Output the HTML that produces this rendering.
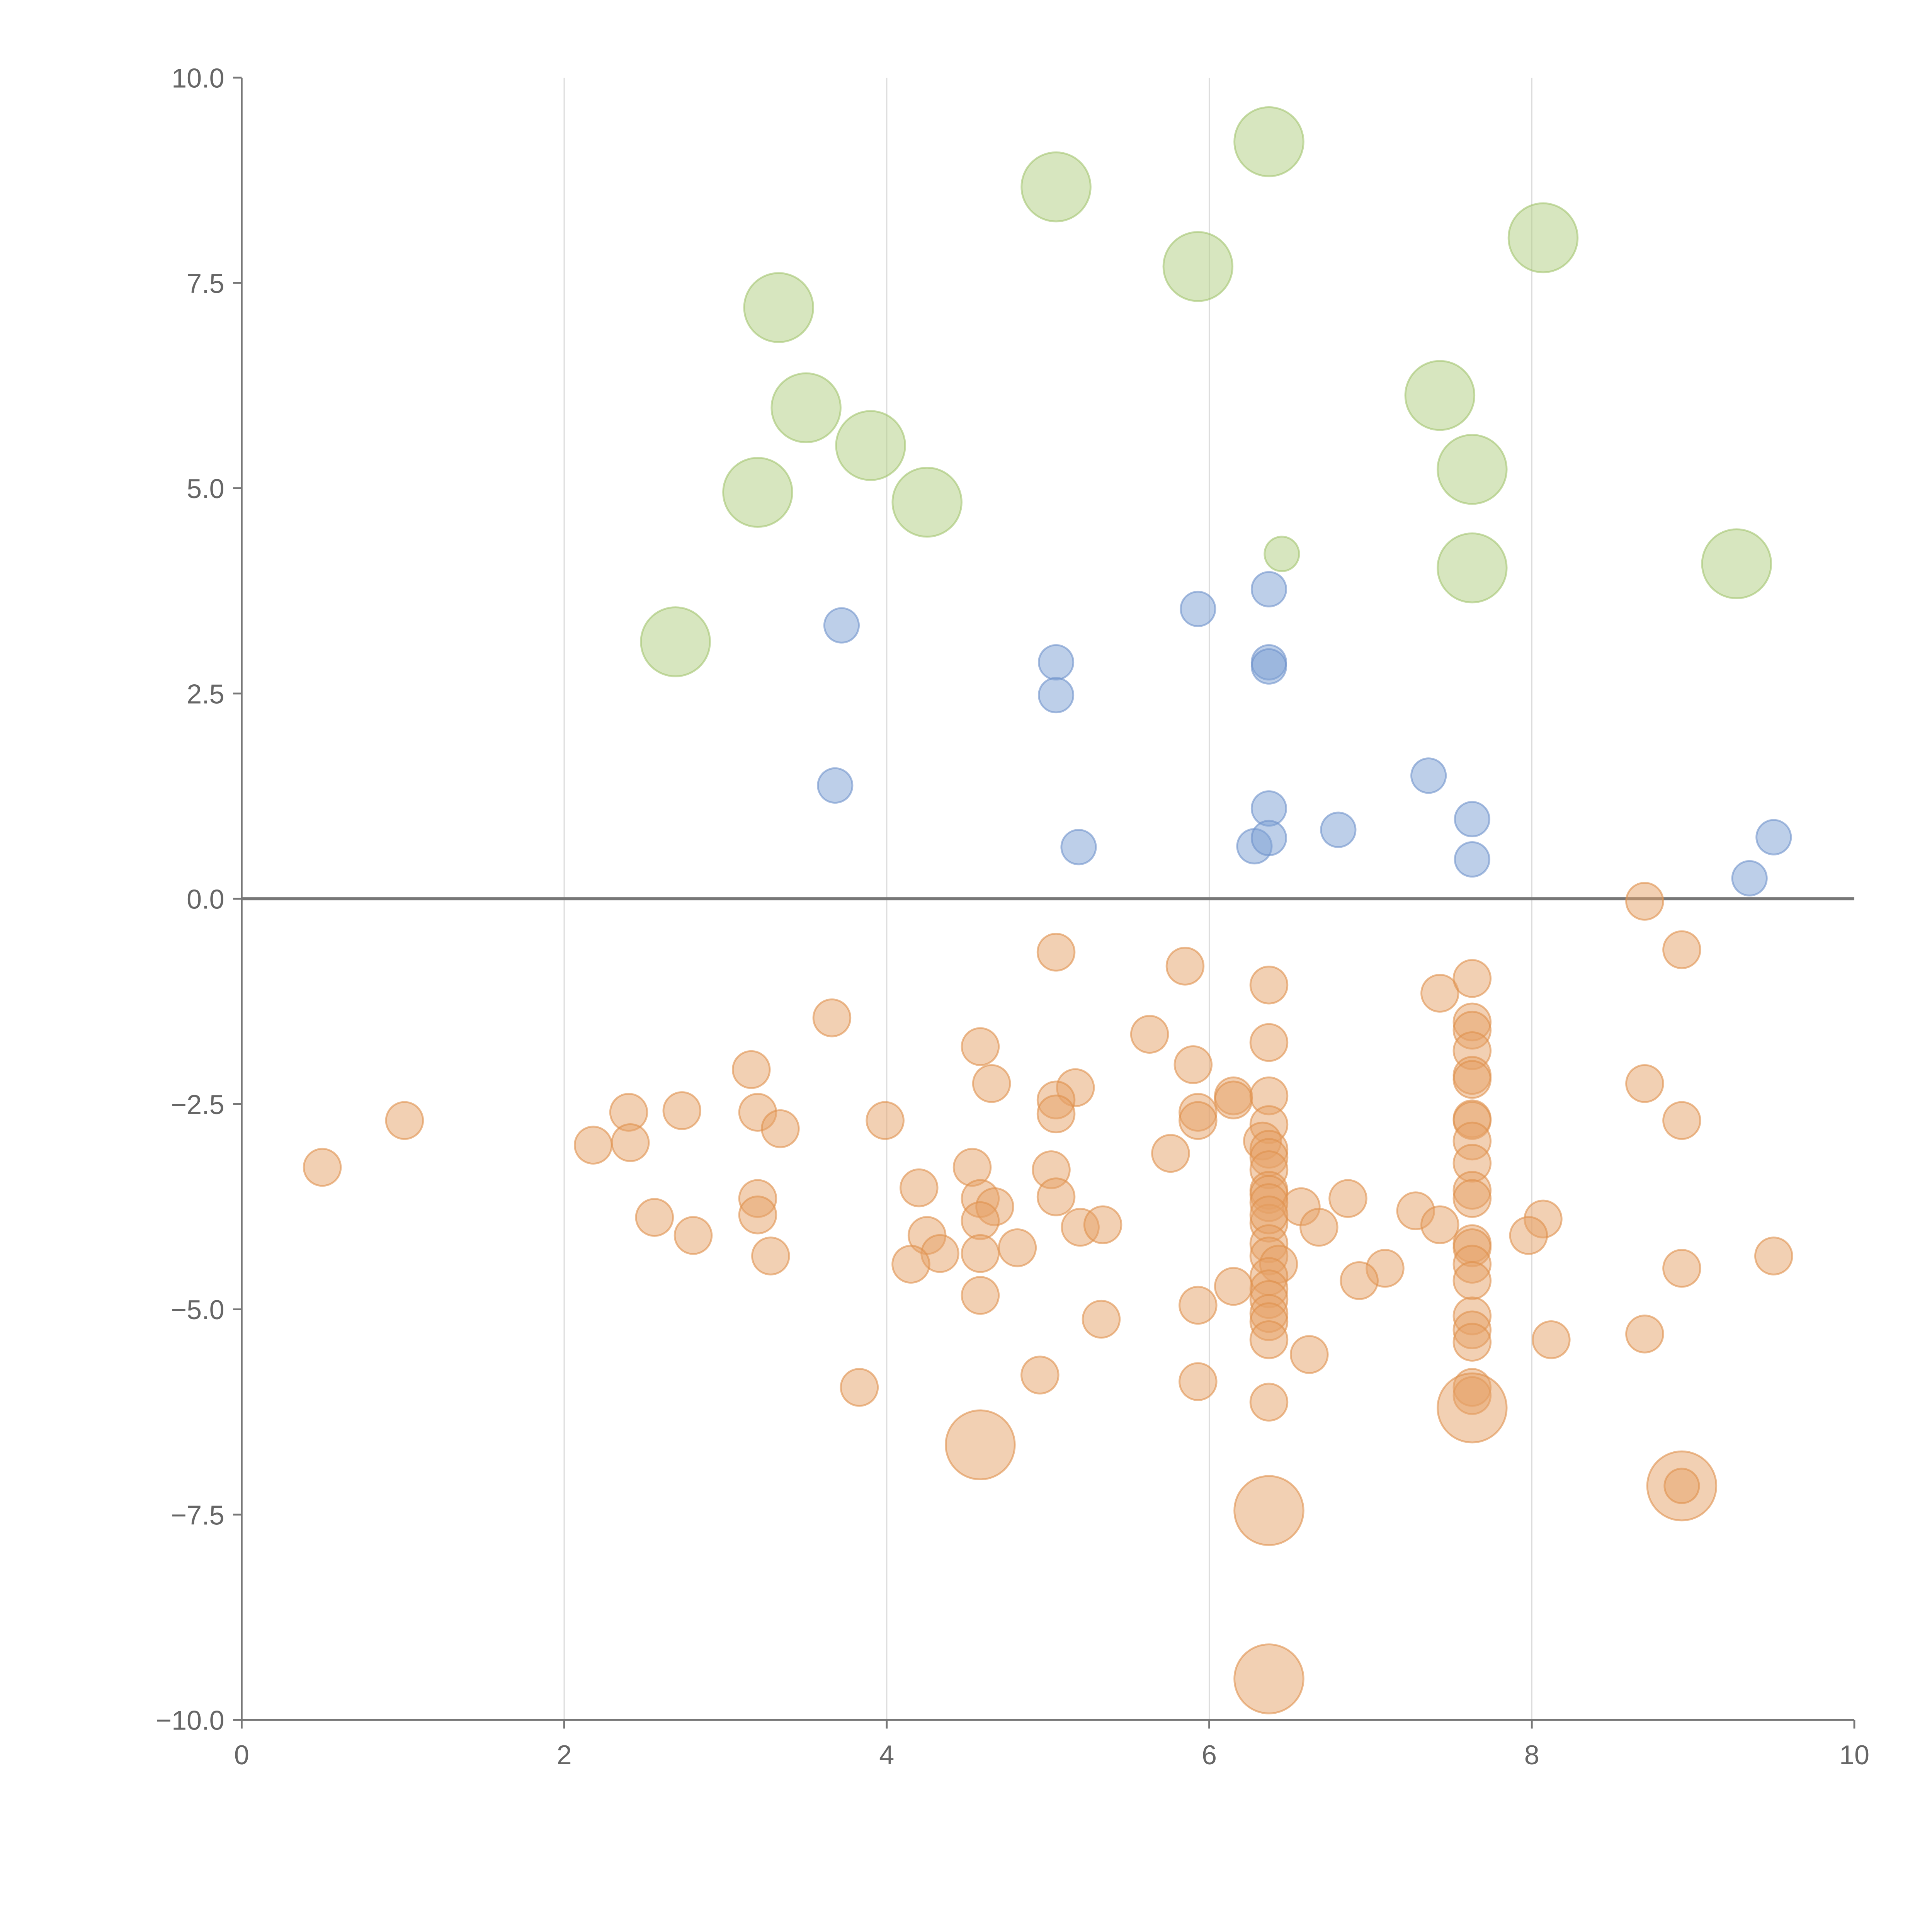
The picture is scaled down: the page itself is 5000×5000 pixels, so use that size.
<!DOCTYPE html>
<html><head><meta charset="utf-8">
<style>
html,body{margin:0;padding:0;background:#fff;}
svg{display:block;}
text{font-family:"Liberation Sans",sans-serif;fill:#666;}
</style></head>
<body>
<svg id="chart" width="5000" height="5000" viewBox="0 0 1567 1567" xmlns="http://www.w3.org/2000/svg">
<g id="grid"></g>
<g id="axes"></g>
<g id="marks"></g>
</svg>
<script>
const xTicks = [0, 2, 4, 6, 8, 10];
const yTicks = [10, 7.5, 5, 2.5, 0, -2.5, -5, -7.5, -10];
const yTickLabels = ["10.0", "7.5", "5.0", "2.5", "0.0", "\u22122.5", "\u22125.0", "\u22127.5", "\u221210.0"];

const greenX = [6.37,5.05,8.07,5.93,3.33,3.5,7.43,3.9,3.2,4.25,7.63,7.63,9.27,6.45,2.69];
const greenY = [9.22,8.67,8.05,7.7,7.2,5.98,6.13,5.52,4.95,4.83,5.23,4.03,4.08,4.2,3.13];
const greenR = [28,28,28,28,28,28,28,28,28,28,28,28,28,14,28];

const blueX = [3.72,5.93,6.37,5.05,5.05,6.37,6.37,3.68,7.36,6.37,6.8,7.63,5.19,6.28,6.37,7.63,9.5,9.35];
const blueY = [3.33,3.53,3.77,2.88,2.48,2.88,2.83,1.38,1.5,1.1,0.84,0.97,0.63,0.64,0.74,0.48,0.75,0.25];

const orangeX = [8.7,8.93,5.05,5.85,6.37,7.43,7.63,3.66,5.63,4.58,6.37,7.63,7.63,7.63,3.16,5.9,4.65,5.17,5.05,6.15,6.15,6.37,7.63,7.63,8.7,1.01,2.4,2.73,3.2,3.99,5.05,5.93,5.93,6.37,7.63,7.63,8.93,0.5,2.18,2.41,3.34,6.33,6.37,6.37,7.63,5.76,4.53,5.02,6.37,7.63,4.2,6.37,6.37,7.63,7.63,3.2,4.58,4.67,5.05,6.57,6.37,6.86,7.28,2.56,3.2,4.58,6.37,6.37,7.43,6.68,5.2,5.34,8.07,2.8,4.25,7.98,6.37,7.63,7.63,4.81,3.28,4.33,4.58,6.37,6.43,4.15,7.09,7.63,8.93,9.5,6.37,6.37,6.15,6.93,7.63,4.58,6.37,5.93,6.37,7.63,5.33,6.37,7.63,8.12,8.7,6.37,7.63,6.62,4.95,5.93,3.83,7.63,7.63,6.37,4.58,7.63,8.93,6.37,6.37,8.93];
const orangeY = [-0.03,-0.62,-0.65,-0.82,-1.05,-1.15,-0.97,-1.45,-1.65,-1.8,-1.75,-1.5,-1.6,-1.85,-2.08,-2.02,-2.25,-2.3,-2.45,-2.4,-2.45,-2.4,-2.15,-2.2,-2.25,-2.7,-2.6,-2.58,-2.6,-2.7,-2.62,-2.6,-2.7,-2.75,-2.68,-2.7,-2.7,-3.27,-3.0,-2.97,-2.8,-2.95,-3.05,-3.15,-2.95,-3.1,-3.27,-3.3,-3.3,-3.22,-3.52,-3.55,-3.6,-3.55,-3.65,-3.65,-3.65,-3.75,-3.63,-3.75,-3.7,-3.65,-3.8,-3.88,-3.85,-3.92,-3.95,-3.85,-3.97,-4.0,-4.0,-3.97,-3.9,-4.1,-4.1,-4.1,-4.2,-4.2,-4.25,-4.25,-4.35,-4.32,-4.32,-4.35,-4.45,-4.45,-4.5,-4.45,-4.5,-4.35,-4.6,-4.75,-4.72,-4.65,-4.65,-4.83,-4.88,-4.95,-5.05,-5.08,-5.12,-5.15,-5.25,-5.37,-5.3,-5.37,-5.4,-5.55,-5.8,-5.88,-5.95,-5.95,-6.05,-6.13,-6.65,-6.2,-7.15,-7.45,-9.5,-7.15];
const orangeBig = [4.58,7.63,8.93,6.37,6.37];

const X0=196, X1=1504, Y0=1395, Y1=63;
const sx = v => X0 + (v-0)/(10-0)*(X1-X0);
const sy = v => Y0 - (v+10)/20*(Y0-Y1);
const NS="http://www.w3.org/2000/svg";
function mk(tag, attrs, parent){const e=document.createElementNS(NS,tag);for(const k in attrs)e.setAttribute(k,attrs[k]);parent.appendChild(e);return e;}
const grid=document.getElementById('grid'), axes=document.getElementById('axes'), marks=document.getElementById('marks');

const nBig = orangeBig.length;
const orangeR = orangeX.map((x,i)=> (i>=orangeX.length-1-nBig && i<orangeX.length-1) ? 28 : 15);
orangeR[orangeR.length-1]=14;

xTicks.forEach(t=>{
  if(t>0&&t<10){const l=mk('line',{x1:sx(t),x2:sx(t),y1:Y1,y2:Y0,stroke:'#ddd','stroke-width':1},grid);
  
  }
  const tk=mk('line',{x1:sx(t),x2:sx(t),y1:Y0,y2:Y0+7,stroke:'#777','stroke-width':1.5},axes);
  
  
  const tx=mk('text',{x:sx(t),y:Y0+36,'font-size':22,'text-anchor':'middle'},axes);
  tx.textContent=t;
  
  
});
yTicks.forEach((t,i)=>{
  const tk=mk('line',{x1:X0-7,x2:X0,y1:sy(t),y2:sy(t),stroke:'#777','stroke-width':1.5},axes);
  
  
  const tx=mk('text',{x:X0-14,y:sy(t)+8,'font-size':22,'text-anchor':'end'},axes);
  tx.textContent=yTickLabels[i];
  
  
});
const ya=mk('line',{x1:X0,x2:X0,y1:Y1,y2:Y0,stroke:'#777','stroke-width':1.5},axes);


const xa=mk('line',{x1:X0,x2:X1,y1:Y0,y2:Y0,stroke:'#777','stroke-width':1.5},axes);



function series(xs,ys,rs,fill,stroke,name){
  xs.forEach((x,i)=>{
    const c=mk('circle',{cx:sx(x),cy:sy(ys[i]),r:rs[i],fill:fill,'fill-opacity':0.5,stroke:stroke,'stroke-opacity':0.6,'stroke-width':1.5},marks);
    
    
  });
}
series(greenX,greenY,greenR,'#b0cd80','#a3c46f','green-bubble');
series(blueX,blueY,blueX.map(()=>14),'#7b9fd4','#6f93cc','blue-bubble');
series(orangeX,orangeY,orangeR,'#e6a267','#e0914c','orange-bubble');

const zl=mk('line',{x1:X0,x2:X1,y1:sy(0),y2:sy(0),stroke:'#777','stroke-width':2.5},axes);


</script>
</body></html>
